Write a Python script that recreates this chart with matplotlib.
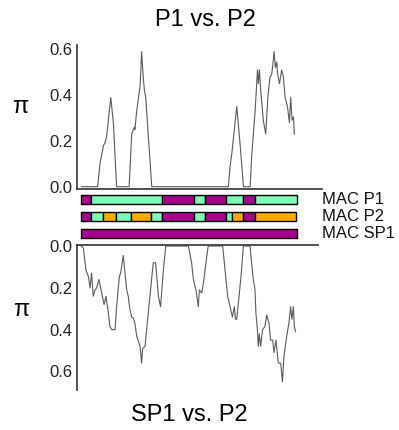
import matplotlib.pyplot as plt

plt.rcParams['font.family'] = ['Liberation Sans', 'DejaVu Sans']

# window position along the region (0-100) and nucleotide diversity
top_x = [0.3, 7.7, 8.8, 10.4, 11.1, 11.9, 13.8, 15.0, 16.5, 22.3, 23.5, 24.7, 25.0, 25.8,
         26.6, 27.4, 28.1, 28.9, 29.4, 30.0, 32.8, 68.3, 69.1, 69.9, 72.2, 73.7, 75.3,
         78.4, 79.1, 80.7, 81.8, 82.2, 82.7, 83.3, 84.5, 85.6, 86.6, 87.6, 88.4, 89.5,
         90.1, 90.7, 91.2, 92.0, 93.0, 93.8, 94.6, 95.7, 96.6, 97.2, 97.8, 98.5, 98.9]
top_pi = [0, 0, 0.10, 0.18, 0.19, 0.22, 0.39, 0.28, 0, 0, 0.23, 0.26, 0.25, 0.33,
          0.385, 0.44, 0.59, 0.47, 0.42, 0.39, 0, 0, 0.09, 0.145, 0.35, 0.19, 0,
          0, 0.13, 0.33, 0.51, 0.45, 0.51, 0.42, 0.29, 0.23, 0.39, 0.48, 0.49, 0.59,
          0.52, 0.545, 0.49, 0.45, 0.51, 0.48, 0.39, 0.35, 0.28, 0.39, 0.29, 0.305, 0.23]

bot_x = [0.3, 1.1, 2.3, 3.4, 4.2, 4.9, 5.7, 6.5, 7.3, 8.3, 9.6, 10.7, 11.6, 12.7, 13.4,
         14.2, 15.8, 16.5, 17.8, 18.4, 19.6, 20.4, 21.2, 21.9, 22.7, 23.5, 24.3, 25.0,
         25.8, 27.4, 28.1, 28.6, 29.7, 31.2, 33.5, 34.6, 35.9, 36.9, 38.2, 39.3, 49.8,
         51.3, 52.1, 53.3, 54.4, 54.9, 56.0, 57.0, 58.3, 59.0, 65.7, 66.8, 68.0, 69.1,
         70.2, 71.1, 71.6, 72.2, 73.3, 74.2, 75.3, 78.4, 79.1, 79.9, 80.7, 81.1, 81.8,
         82.2, 82.7, 83.3, 84.2, 85.3, 86.1, 87.2, 87.9, 88.9, 89.5, 90.4, 91.5, 92.6,
         93.4, 94.1, 95.4, 96.4, 97.2, 97.8, 98.5, 98.9, 99.5]
bot_pi = [0, 0.01, 0.115, 0.145, 0.20, 0.13, 0.24, 0.21, 0.20, 0.16, 0.225, 0.28, 0.24,
          0.32, 0.385, 0.40, 0.40, 0.29, 0.145, 0.13, 0.045, 0.13, 0.21, 0.24, 0.305,
          0.34, 0.345, 0.37, 0.43, 0.48, 0.56, 0.49, 0.48, 0.32, 0.08, 0.08, 0.24, 0.29,
          0.115, 0, 0, 0.08, 0.16, 0.21, 0.29, 0.21, 0.225, 0.16, 0.05, 0, 0, 0.115,
          0.24, 0.29, 0.34, 0.29, 0.35, 0.35, 0.24, 0.145, 0, 0, 0.08, 0.16, 0.21, 0.32,
          0.40, 0.48, 0.42, 0.48, 0.40, 0.385, 0.33, 0.37, 0.45, 0.45, 0.51, 0.45, 0.56,
          0.56, 0.65, 0.53, 0.43, 0.37, 0.29, 0.35, 0.29, 0.385, 0.41]

pi_ticks = [0.0, 0.2, 0.4, 0.6]

# haplotype tracks: segment boundaries and state per segment
track_names = ['MAC P1', 'MAC P2', 'MAC SP1']
p1_edges = [0, 4.5, 37.7, 52.4, 57.7, 67.1, 75.3, 80.5, 100]
p1_states = ['M', 'G', 'M', 'G', 'M', 'G', 'M', 'G']
p2_edges = [0, 4.5, 10.0, 16.2, 23.0, 32.3, 37.7, 52.4, 57.7, 67.1, 69.9, 75.3, 80.5, 99.5]
p2_states = ['M', 'G', 'O', 'G', 'O', 'G', 'M', 'G', 'M', 'G', 'O', 'M', 'O']
sp1_edges = [0, 100]
sp1_states = ['M']

state_colors = {'M': '#A8008E', 'G': '#7DFFB9', 'O': '#FFAA00'}
line_color = '#5a5a5a'
spine_color = '#333333'

W, H = 399, 430
fig = plt.figure(figsize=(W / 100, H / 100), dpi=100)


def px_axes(x0, x1, ytop, ybot):
    return fig.add_axes([x0 / W, 1 - ybot / H, (x1 - x0) / W, (ybot - ytop) / H])


# top panel
ax1 = px_axes(77, 322, 45, 189)
ax1.plot(top_x, top_pi, color=line_color, lw=0.8)
ax1.set_xlim(-1.85, 111.7)
ax1.set_ylim(-0.01, 0.619)
ax1.set_yticks(pi_ticks)
ax1.set_yticklabels([f'{t:.1f}' for t in pi_ticks])
ax1.set_xticks([])
for s in ['top', 'right']:
    ax1.spines[s].set_visible(False)

# bottom panel (inverted)
ax2 = px_axes(77, 318, 245, 390)
ax2.plot(bot_x, bot_pi, color=line_color, lw=0.8)
ax2.set_xlim(-1.85, 109.9)
ax2.set_ylim(0.689, -0.005)
ax2.set_yticks(pi_ticks)
ax2.set_yticklabels([f'{t:.1f}' for t in pi_ticks])
ax2.set_xticks([])
for s in ['bottom', 'right']:
    ax2.spines[s].set_visible(False)

for ax in (ax1, ax2):
    ax.tick_params(axis='y', length=0, pad=3, labelsize=12, labelcolor='#222222')
    for s in ax.spines.values():
        s.set_color(spine_color)
        s.set_linewidth(1.2)
    ax.patch.set_alpha(0)

# tracks
ax3 = px_axes(77, 322, 191, 242)
ax3.set_xlim(-1.85, 111.7)
ax3.set_ylim(2.5, -0.5)
ax3.axis('off')
tracks = [(p1_edges, p1_states), (p2_edges, p2_states), (sp1_edges, sp1_states)]
for row, (edges, states) in enumerate(tracks):
    for a, b, st in zip(edges[:-1], edges[1:], states):
        ax3.barh(row, b - a, left=a, height=0.56, color=state_colors[st],
                 edgecolor='black', linewidth=1.0)
    ax3.text(1.0, row, track_names[row], transform=ax3.get_yaxis_transform(),
             ha='left', va='center', fontsize=12, color='#111111')

fig.text(20 / W, 1 - 107 / H, 'π', fontsize=17, ha='center', va='center')
fig.text(21 / W, 1 - 310 / H, 'π', fontsize=17, ha='center', va='center')
fig.text(205 / W, 1 - 20 / H, 'P1 vs. P2', fontsize=17, ha='center', va='center')
fig.text(189 / W, 1 - 415 / H, 'SP1 vs. P2', fontsize=17, ha='center', va='center')

fig.savefig('out.png', dpi=100)
